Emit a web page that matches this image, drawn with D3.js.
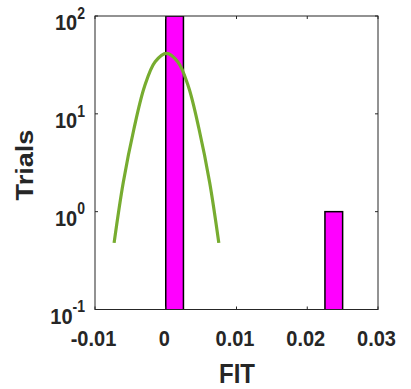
<!DOCTYPE html>
<html>
<head>
<meta charset="utf-8">
<script src="https://cdn.jsdelivr.net/npm/d3@7"></script>
<style>
  body { margin: 0; background: #fff; }
  text { font-family: "Liberation Sans", Arial, sans-serif; font-weight: bold; fill: #262626; }
</style>
</head>
<body>
<div id="chart"></div>
<script>
// histogram bins (left edge) and counts
var binStarts = [0, 0.0025, 0.005, 0.0075, 0.01, 0.0125, 0.015, 0.0175, 0.02, 0.0225];
var counts    = [100, 0, 0, 0, 0, 0, 0, 0, 0, 1];
var binWidth  = 0.0025;

// fitted curve, points
var fitX = [-0.0073, -0.006, -0.0045, -0.003, -0.0015, 0.0001, 0.0017, 0.0032, 0.0047, 0.0062, 0.0075];
var fitY = [0.48, 2.0, 7.0, 19, 34, 41.5, 34, 19, 7.0, 2.0, 0.48];

var xTicks = [-0.01, 0, 0.01, 0.02, 0.03];
var xTickLabels = ['-0.01', '0', '0.01', '0.02', '0.03'];
var yTicks = [0.1, 1, 10, 100];
var yTickExp = ['-1', '0', '1', '2'];

var chart_width = 411;
var chart_height = 389;
var pLeft = 95, pRight = 378, pTop = 16, pBottom = 309.5;
var stretch = 1.13; // text in the picture is a bit taller than wide

var svg = d3.select('#chart')
  .append('svg')
  .attr('width', chart_width)
  .attr('height', chart_height);

var x_scale = d3.scaleLinear().domain([-0.01, 0.03]).range([pLeft, pRight]);
var y_scale = d3.scaleLog().domain([0.1, 100]).range([pBottom, pTop]);

svg.append('defs').append('clipPath').attr('id', 'plot')
  .append('rect')
  .attr('x', pLeft).attr('y', pTop)
  .attr('width', pRight - pLeft).attr('height', pBottom - pTop);

var plot = svg.append('g').attr('clip-path', 'url(#plot)');

var bars = binStarts.map(function(b, i){
  return { x0: b, n: counts[i] };
}).filter(function(d){ return d.n > 0; });

plot.selectAll('rect.bar')
  .data(bars)
  .enter()
  .append('rect')
  .attr('class', 'bar')
  .attr('x', function(d){ return x_scale(d.x0); })
  .attr('width', function(d){ return x_scale(d.x0 + binWidth) - x_scale(d.x0); })
  .attr('y', function(d){ return y_scale(d.n); })
  .attr('height', function(d){ return pBottom - y_scale(d.n) + 2; })
  .attr('fill', '#FF00FF')
  .attr('stroke', '#000')
  .attr('stroke-width', 1.5);

var line = d3.line()
  .x(function(d){ return x_scale(d[0]); })
  .y(function(d){ return y_scale(d[1]); })
  .curve(d3.curveCatmullRom);

plot.append('path')
  .datum(fitX.map(function(v, i){ return [v, fitY[i]]; }))
  .attr('d', line)
  .attr('fill', 'none')
  .attr('stroke', '#77AC30')
  .attr('stroke-width', 3.2);

// box and inward ticks
var axes = svg.append('g');
axes.append('rect')
  .attr('x', pLeft).attr('y', pTop)
  .attr('width', pRight - pLeft).attr('height', pBottom - pTop)
  .attr('fill', 'none')
  .attr('stroke', '#262626')
  .attr('stroke-width', 1);

var tl = 3;
xTicks.forEach(function(t){
  var x = x_scale(t);
  axes.append('line').attr('x1', x).attr('x2', x).attr('y1', pBottom).attr('y2', pBottom - tl).attr('stroke', '#262626');
  axes.append('line').attr('x1', x).attr('x2', x).attr('y1', pTop).attr('y2', pTop + tl).attr('stroke', '#262626');
});
yTicks.forEach(function(t){
  var y = y_scale(t);
  axes.append('line').attr('x1', pLeft).attr('x2', pLeft + tl).attr('y1', y).attr('y2', y).attr('stroke', '#262626');
  axes.append('line').attr('x1', pRight).attr('x2', pRight - tl).attr('y1', y).attr('y2', y).attr('stroke', '#262626');
});

// tick labels
svg.selectAll('text.xt')
  .data(xTicks)
  .enter()
  .append('text')
  .attr('class', 'xt')
  .attr('transform', function(d){
    return 'translate(' + (x_scale(d) - 1.5) + ',' + (pBottom + 36) + ') scale(1,' + stretch + ')';
  })
  .attr('text-anchor', 'middle')
  .attr('font-size', 20)
  .text(function(d, i){ return xTickLabels[i]; });

var yt = svg.selectAll('text.yt')
  .data(yTicks)
  .enter()
  .append('text')
  .attr('class', 'yt')
  .attr('transform', function(d){
    return 'translate(85,' + (y_scale(d) + 14) + ') scale(1,' + stretch + ')';
  })
  .attr('text-anchor', 'end');
yt.append('tspan').attr('font-size', 20).text('10');
yt.append('tspan').attr('font-size', 14).attr('dy', -10)
  .text(function(d, i){ return yTickExp[i]; });

// axis labels
svg.append('text')
  .attr('transform', 'translate(237,382.5) scale(1,' + stretch + ')')
  .attr('text-anchor', 'middle')
  .attr('font-size', 24)
  .text('FIT');

svg.append('text')
  .attr('transform', 'translate(33,165) scale(1,' + stretch + ') rotate(-90)')
  .attr('text-anchor', 'middle')
  .attr('font-size', 24)
  .text('Trials');
</script>
</body>
</html>
